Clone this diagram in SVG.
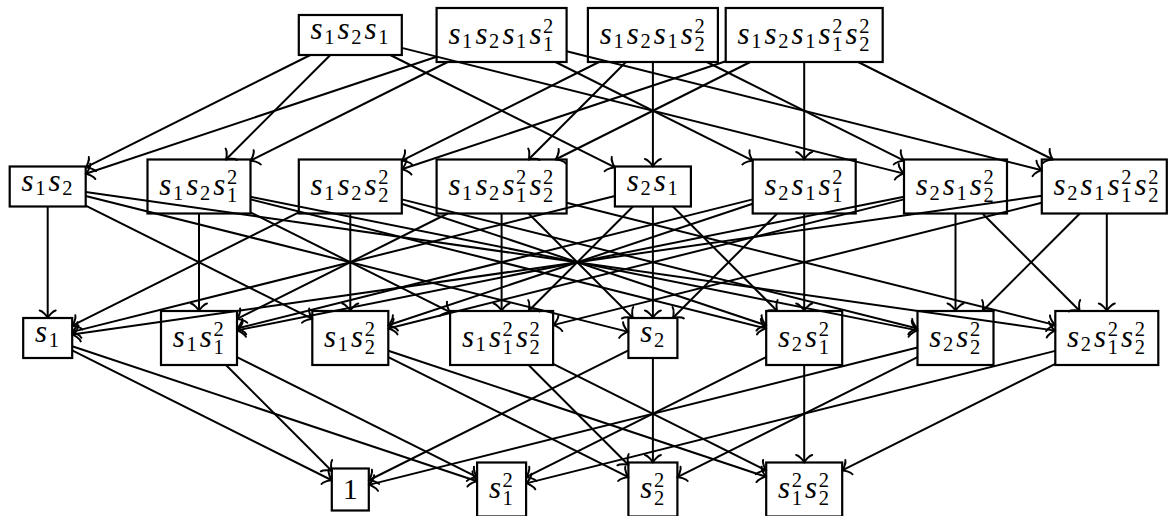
<svg xmlns="http://www.w3.org/2000/svg" width="1168" height="516" viewBox="0 0 1168 516">
<defs>
<marker id="to" markerUnits="userSpaceOnUse" orient="auto" refX="0" refY="0" markerWidth="20" markerHeight="20" viewBox="-10 -10 20 20" overflow="visible">
<path d="M -7.5,-8 C -7,-5 -1.5,-0.5 0,0 C -1.5,0.5 -7,5 -7.5,8" fill="none" stroke="#000" stroke-width="2" stroke-linecap="round" stroke-linejoin="round"/>
</marker>
<style>
.e line{stroke:#000;stroke-width:2;marker-end:url(#to)}
.n rect{fill:none;stroke:#000;stroke-width:2.2}
.m{font-family:"Liberation Serif","Times New Roman",serif;font-style:italic;font-size:31px;fill:#000}
.d{font-family:"Liberation Serif","Times New Roman",serif;font-style:normal;font-size:20.5px}
.one{font-family:"Liberation Serif","Times New Roman",serif;font-size:30px;fill:#000}
</style>
</defs>
<g id="connectors" class="e">
<line x1="310.35" y1="55" x2="85.7" y2="167.47"/>
<line x1="330.33" y1="55" x2="225.96" y2="159.5"/>
<line x1="390.25" y1="55" x2="614.9" y2="167.47"/>
<line x1="401.8" y1="47.89" x2="904" y2="173.61"/>
<line x1="436.6" y1="56.7" x2="85.7" y2="173.82"/>
<line x1="447.67" y1="62" x2="250.5" y2="160.72"/>
<line x1="555.53" y1="62" x2="752.7" y2="160.72"/>
<line x1="566.6" y1="51.27" x2="1041.8" y2="170.23"/>
<line x1="598.97" y1="62" x2="401.8" y2="160.72"/>
<line x1="625.94" y1="62" x2="528.56" y2="159.5"/>
<line x1="652.9" y1="62" x2="652.9" y2="166.5"/>
<line x1="706.83" y1="62" x2="904" y2="160.72"/>
<line x1="725.7" y1="61.2" x2="401.8" y2="169.31"/>
<line x1="750.27" y1="62" x2="555.53" y2="159.5"/>
<line x1="804.2" y1="62" x2="804.2" y2="159.5"/>
<line x1="858.13" y1="62" x2="1052.87" y2="159.5"/>
<line x1="47.7" y1="206.5" x2="47.7" y2="318"/>
<line x1="85.7" y1="205.53" x2="312.3" y2="318.97"/>
<line x1="85.7" y1="196.01" x2="628.4" y2="331.87"/>
<line x1="85.7" y1="191.94" x2="1055.3" y2="330.63"/>
<line x1="199" y1="213.5" x2="199" y2="311"/>
<line x1="250.5" y1="212.28" x2="450.1" y2="312.22"/>
<line x1="250.5" y1="199.39" x2="766.2" y2="328.49"/>
<line x1="250.5" y1="196.81" x2="917.5" y2="330.39"/>
<line x1="298.8" y1="212.28" x2="72.2" y2="325.73"/>
<line x1="350.3" y1="213.5" x2="350.3" y2="311"/>
<line x1="401.8" y1="203.69" x2="766.2" y2="325.32"/>
<line x1="401.8" y1="199.39" x2="917.5" y2="328.49"/>
<line x1="447.67" y1="213.5" x2="237" y2="318.97"/>
<line x1="501.6" y1="213.5" x2="501.6" y2="311"/>
<line x1="528.56" y1="213.5" x2="632.93" y2="318"/>
<line x1="566.6" y1="202.77" x2="1055.3" y2="325.11"/>
<line x1="614.9" y1="196.01" x2="72.2" y2="331.87"/>
<line x1="632.93" y1="206.5" x2="528.56" y2="311"/>
<line x1="652.9" y1="206.5" x2="652.9" y2="318"/>
<line x1="672.87" y1="206.5" x2="777.24" y2="311"/>
<line x1="752.7" y1="199.39" x2="237" y2="328.49"/>
<line x1="752.7" y1="203.69" x2="388.3" y2="325.32"/>
<line x1="777.24" y1="213.5" x2="672.87" y2="318"/>
<line x1="804.2" y1="213.5" x2="804.2" y2="311"/>
<line x1="904" y1="196.81" x2="237" y2="330.39"/>
<line x1="904" y1="199.39" x2="388.3" y2="328.49"/>
<line x1="955.5" y1="213.5" x2="955.5" y2="311"/>
<line x1="982.46" y1="213.5" x2="1079.84" y2="311"/>
<line x1="1041.8" y1="195.8" x2="72.2" y2="334.5"/>
<line x1="1041.8" y1="202.77" x2="553.1" y2="325.11"/>
<line x1="1079.84" y1="213.5" x2="982.46" y2="311"/>
<line x1="1106.8" y1="213.5" x2="1106.8" y2="311"/>
<line x1="72.2" y1="350.27" x2="331.8" y2="480.24"/>
<line x1="72.2" y1="346.18" x2="477.1" y2="481.32"/>
<line x1="225.96" y1="365" x2="331.8" y2="470.97"/>
<line x1="237" y1="357.03" x2="477.1" y2="477.23"/>
<line x1="388.3" y1="357.03" x2="628.4" y2="477.23"/>
<line x1="388.3" y1="350.68" x2="766.2" y2="476.82"/>
<line x1="528.56" y1="365" x2="628.4" y2="464.97"/>
<line x1="553.1" y1="363.78" x2="766.2" y2="470.47"/>
<line x1="628.4" y1="350.27" x2="368.8" y2="480.24"/>
<line x1="652.9" y1="358" x2="652.9" y2="462.5"/>
<line x1="766.2" y1="357.03" x2="526.1" y2="477.23"/>
<line x1="804.2" y1="365" x2="804.2" y2="462.5"/>
<line x1="917.5" y1="347.51" x2="368.8" y2="484.87"/>
<line x1="917.5" y1="357.03" x2="677.4" y2="477.23"/>
<line x1="1055.3" y1="350.89" x2="526.1" y2="483.37"/>
<line x1="1055.3" y1="363.78" x2="842.2" y2="470.47"/>
</g>
<g id="A1" class="n"><rect x="298.8" y="15" width="103" height="40"/>
<text class="m"><tspan x="310.6" y="39.2">s</tspan><tspan class="d" x="324.3" y="43.7">1</tspan><tspan x="337.6" y="39.2">s</tspan><tspan class="d" x="351.3" y="43.7">2</tspan><tspan x="364.6" y="39.2">s</tspan><tspan class="d" x="378.3" y="43.7">1</tspan></text></g>
<g id="A2" class="n"><rect x="436.6" y="8" width="130" height="54"/>
<text class="m"><tspan x="448.4" y="43.5">s</tspan><tspan class="d" x="462.1" y="48">1</tspan><tspan x="475.4" y="43.5">s</tspan><tspan class="d" x="489.1" y="48">2</tspan><tspan x="502.4" y="43.5">s</tspan><tspan class="d" x="516.1" y="48">1</tspan><tspan x="529.4" y="43.5">s</tspan><tspan class="d" x="543.1" y="32.6">2</tspan><tspan class="d" x="543.1" y="50.9">1</tspan></text></g>
<g id="A3" class="n"><rect x="587.9" y="8" width="130" height="54"/>
<text class="m"><tspan x="599.7" y="43.5">s</tspan><tspan class="d" x="613.4" y="48">1</tspan><tspan x="626.7" y="43.5">s</tspan><tspan class="d" x="640.4" y="48">2</tspan><tspan x="653.7" y="43.5">s</tspan><tspan class="d" x="667.4" y="48">1</tspan><tspan x="680.7" y="43.5">s</tspan><tspan class="d" x="694.4" y="32.6">2</tspan><tspan class="d" x="694.4" y="50.9">2</tspan></text></g>
<g id="A4" class="n"><rect x="725.7" y="8" width="157" height="54"/>
<text class="m"><tspan x="737.5" y="43.5">s</tspan><tspan class="d" x="751.2" y="48">1</tspan><tspan x="764.5" y="43.5">s</tspan><tspan class="d" x="778.2" y="48">2</tspan><tspan x="791.5" y="43.5">s</tspan><tspan class="d" x="805.2" y="48">1</tspan><tspan x="818.5" y="43.5">s</tspan><tspan class="d" x="832.2" y="32.6">2</tspan><tspan class="d" x="832.2" y="50.9">1</tspan><tspan x="845.5" y="43.5">s</tspan><tspan class="d" x="859.2" y="32.6">2</tspan><tspan class="d" x="859.2" y="50.9">2</tspan></text></g>
<g id="B1" class="n"><rect x="9.7" y="166.5" width="76" height="40"/>
<text class="m"><tspan x="21.5" y="190.7">s</tspan><tspan class="d" x="35.2" y="195.2">1</tspan><tspan x="48.5" y="190.7">s</tspan><tspan class="d" x="62.2" y="195.2">2</tspan></text></g>
<g id="B2" class="n"><rect x="147.5" y="159.5" width="103" height="54"/>
<text class="m"><tspan x="159.3" y="195">s</tspan><tspan class="d" x="173" y="199.5">1</tspan><tspan x="186.3" y="195">s</tspan><tspan class="d" x="200" y="199.5">2</tspan><tspan x="213.3" y="195">s</tspan><tspan class="d" x="227" y="184.1">2</tspan><tspan class="d" x="227" y="202.4">1</tspan></text></g>
<g id="B3" class="n"><rect x="298.8" y="159.5" width="103" height="54"/>
<text class="m"><tspan x="310.6" y="195">s</tspan><tspan class="d" x="324.3" y="199.5">1</tspan><tspan x="337.6" y="195">s</tspan><tspan class="d" x="351.3" y="199.5">2</tspan><tspan x="364.6" y="195">s</tspan><tspan class="d" x="378.3" y="184.1">2</tspan><tspan class="d" x="378.3" y="202.4">2</tspan></text></g>
<g id="B4" class="n"><rect x="436.6" y="159.5" width="130" height="54"/>
<text class="m"><tspan x="448.4" y="195">s</tspan><tspan class="d" x="462.1" y="199.5">1</tspan><tspan x="475.4" y="195">s</tspan><tspan class="d" x="489.1" y="199.5">2</tspan><tspan x="502.4" y="195">s</tspan><tspan class="d" x="516.1" y="184.1">2</tspan><tspan class="d" x="516.1" y="202.4">1</tspan><tspan x="529.4" y="195">s</tspan><tspan class="d" x="543.1" y="184.1">2</tspan><tspan class="d" x="543.1" y="202.4">2</tspan></text></g>
<g id="B5" class="n"><rect x="614.9" y="166.5" width="76" height="40"/>
<text class="m"><tspan x="626.7" y="190.7">s</tspan><tspan class="d" x="640.4" y="195.2">2</tspan><tspan x="653.7" y="190.7">s</tspan><tspan class="d" x="667.4" y="195.2">1</tspan></text></g>
<g id="B6" class="n"><rect x="752.7" y="159.5" width="103" height="54"/>
<text class="m"><tspan x="764.5" y="195">s</tspan><tspan class="d" x="778.2" y="199.5">2</tspan><tspan x="791.5" y="195">s</tspan><tspan class="d" x="805.2" y="199.5">1</tspan><tspan x="818.5" y="195">s</tspan><tspan class="d" x="832.2" y="184.1">2</tspan><tspan class="d" x="832.2" y="202.4">1</tspan></text></g>
<g id="B7" class="n"><rect x="904" y="159.5" width="103" height="54"/>
<text class="m"><tspan x="915.8" y="195">s</tspan><tspan class="d" x="929.5" y="199.5">2</tspan><tspan x="942.8" y="195">s</tspan><tspan class="d" x="956.5" y="199.5">1</tspan><tspan x="969.8" y="195">s</tspan><tspan class="d" x="983.5" y="184.1">2</tspan><tspan class="d" x="983.5" y="202.4">2</tspan></text></g>
<g id="B8" class="n"><rect x="1041.8" y="159.5" width="125" height="54"/>
<text class="m"><tspan x="1053.6" y="195">s</tspan><tspan class="d" x="1067.3" y="199.5">2</tspan><tspan x="1080.6" y="195">s</tspan><tspan class="d" x="1094.3" y="199.5">1</tspan><tspan x="1107.6" y="195">s</tspan><tspan class="d" x="1121.3" y="184.1">2</tspan><tspan class="d" x="1121.3" y="202.4">1</tspan><tspan x="1134.6" y="195">s</tspan><tspan class="d" x="1148.3" y="184.1">2</tspan><tspan class="d" x="1148.3" y="202.4">2</tspan></text></g>
<g id="C1" class="n"><rect x="23.2" y="318" width="49" height="40"/>
<text class="m"><tspan x="35" y="342.2">s</tspan><tspan class="d" x="48.7" y="346.7">1</tspan></text></g>
<g id="C2" class="n"><rect x="161" y="311" width="76" height="54"/>
<text class="m"><tspan x="172.8" y="346.5">s</tspan><tspan class="d" x="186.5" y="351">1</tspan><tspan x="199.8" y="346.5">s</tspan><tspan class="d" x="213.5" y="335.6">2</tspan><tspan class="d" x="213.5" y="353.9">1</tspan></text></g>
<g id="C3" class="n"><rect x="312.3" y="311" width="76" height="54"/>
<text class="m"><tspan x="324.1" y="346.5">s</tspan><tspan class="d" x="337.8" y="351">1</tspan><tspan x="351.1" y="346.5">s</tspan><tspan class="d" x="364.8" y="335.6">2</tspan><tspan class="d" x="364.8" y="353.9">2</tspan></text></g>
<g id="C4" class="n"><rect x="450.1" y="311" width="103" height="54"/>
<text class="m"><tspan x="461.9" y="346.5">s</tspan><tspan class="d" x="475.6" y="351">1</tspan><tspan x="488.9" y="346.5">s</tspan><tspan class="d" x="502.6" y="335.6">2</tspan><tspan class="d" x="502.6" y="353.9">1</tspan><tspan x="515.9" y="346.5">s</tspan><tspan class="d" x="529.6" y="335.6">2</tspan><tspan class="d" x="529.6" y="353.9">2</tspan></text></g>
<g id="C5" class="n"><rect x="628.4" y="318" width="49" height="40"/>
<text class="m"><tspan x="640.2" y="342.2">s</tspan><tspan class="d" x="653.9" y="346.7">2</tspan></text></g>
<g id="C6" class="n"><rect x="766.2" y="311" width="76" height="54"/>
<text class="m"><tspan x="778" y="346.5">s</tspan><tspan class="d" x="791.7" y="351">2</tspan><tspan x="805" y="346.5">s</tspan><tspan class="d" x="818.7" y="335.6">2</tspan><tspan class="d" x="818.7" y="353.9">1</tspan></text></g>
<g id="C7" class="n"><rect x="917.5" y="311" width="76" height="54"/>
<text class="m"><tspan x="929.3" y="346.5">s</tspan><tspan class="d" x="943" y="351">2</tspan><tspan x="956.3" y="346.5">s</tspan><tspan class="d" x="970" y="335.6">2</tspan><tspan class="d" x="970" y="353.9">2</tspan></text></g>
<g id="C8" class="n"><rect x="1055.3" y="311" width="103" height="54"/>
<text class="m"><tspan x="1067.1" y="346.5">s</tspan><tspan class="d" x="1080.8" y="351">2</tspan><tspan x="1094.1" y="346.5">s</tspan><tspan class="d" x="1107.8" y="335.6">2</tspan><tspan class="d" x="1107.8" y="353.9">1</tspan><tspan x="1121.1" y="346.5">s</tspan><tspan class="d" x="1134.8" y="335.6">2</tspan><tspan class="d" x="1134.8" y="353.9">2</tspan></text></g>
<g id="D1" class="n"><rect x="331.8" y="468.5" width="37" height="42"/>
<text class="one" x="350.3" y="499.2" text-anchor="middle">1</text></g>
<g id="D2" class="n"><rect x="477.1" y="462.5" width="49" height="54"/>
<text class="m"><tspan x="488.9" y="498">s</tspan><tspan class="d" x="502.6" y="487.1">2</tspan><tspan class="d" x="502.6" y="505.4">1</tspan></text></g>
<g id="D3" class="n"><rect x="628.4" y="462.5" width="49" height="54"/>
<text class="m"><tspan x="640.2" y="498">s</tspan><tspan class="d" x="653.9" y="487.1">2</tspan><tspan class="d" x="653.9" y="505.4">2</tspan></text></g>
<g id="D4" class="n"><rect x="766.2" y="462.5" width="76" height="54"/>
<text class="m"><tspan x="778" y="498">s</tspan><tspan class="d" x="791.7" y="487.1">2</tspan><tspan class="d" x="791.7" y="505.4">1</tspan><tspan x="805" y="498">s</tspan><tspan class="d" x="818.7" y="487.1">2</tspan><tspan class="d" x="818.7" y="505.4">2</tspan></text></g>
</svg>
